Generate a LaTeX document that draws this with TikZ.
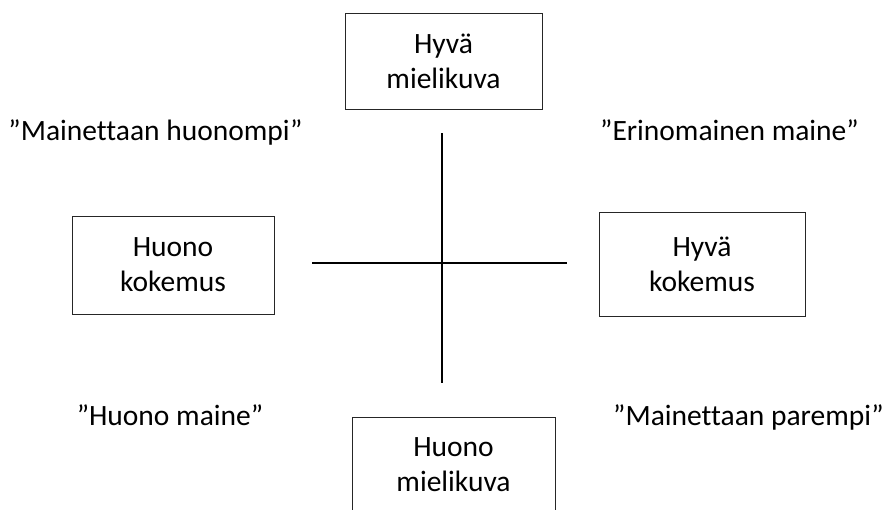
\documentclass[tikz,border=0pt]{standalone}
\usepackage{fontspec}
\setmainfont{Carlito}[Ligatures=NoCommon]
\usetikzlibrary{positioning}
\newcommand{\labelfs}{\fontsize{29.5}{35}\selectfont}
\tikzset{
  fieldbox/.style={rectangle,draw=black!85,line width=1pt,inner sep=0pt,align=center,font=\labelfs},
  quotelabel/.style={inner sep=0pt,anchor=base,font=\labelfs},
  axisline/.style={line width=1.4pt,draw=black}
}

\begin{document}
\begin{tikzpicture}[x=1pt,y=-1pt]
  \useasboundingbox (0,0) rectangle (888,509);
  % boxes
  \node[fieldbox,minimum width=197pt,minimum height=96pt] (goodimg) at (443.5,61) {Hyvä\\mielikuva};
  \node[fieldbox,minimum width=202pt,minimum height=98pt] (badexp) at (173,265) {Huono\\kokemus};
  \node[fieldbox,minimum width=206pt,minimum height=104pt] (goodexp) at (702,264) {Hyvä\\kokemus};
  \node[fieldbox,minimum width=203pt,minimum height=96pt] (badimg) at (453.5,465) {Huono\\mielikuva};
  % quadrant labels
  \node[quotelabel] (qtl) at (155.5,140) {”Mainettaan huonompi”};
  \node[quotelabel] (qtr) at (729.5,140) {”Erinomainen maine”};
  \node[quotelabel] (qbl) at (170,425) {”Huono maine”};
  \node[quotelabel] (qbr) at (748.5,425) {”Mainettaan parempi”};
  % axes
  \coordinate (vtop) at (442,133);
  \coordinate (vbot) at (442,383);
  \coordinate (hleft) at (312,263);
  \coordinate (hright) at (567,263);
  \draw[axisline] (vtop) -- (vbot);
  \draw[axisline] (hleft) -- (hright);
\end{tikzpicture}
\end{document}
